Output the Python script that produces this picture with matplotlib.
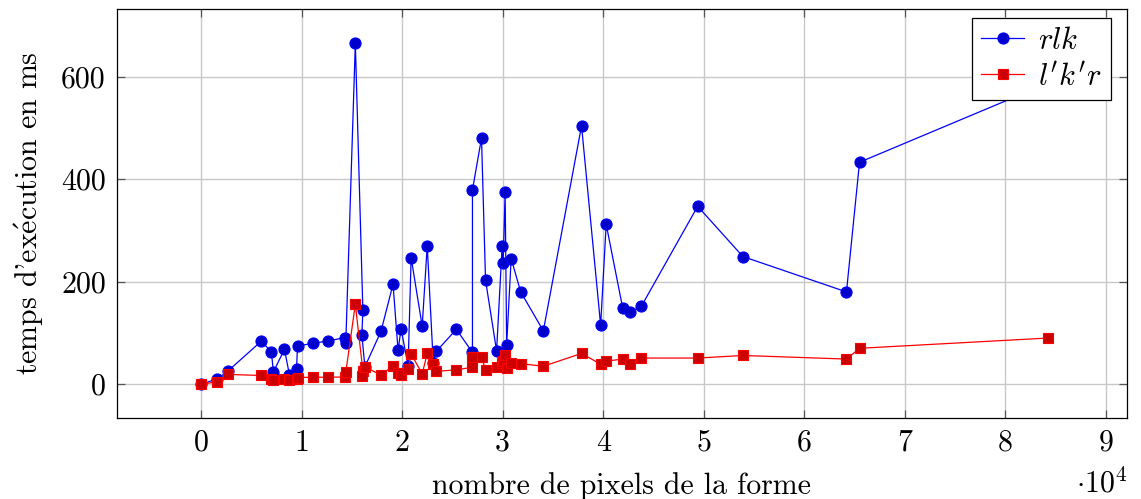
import matplotlib
matplotlib.use("Agg")
from matplotlib import pyplot as plt

plt.rcParams['font.family'] = ['cmr10', 'DejaVu Serif']
plt.rcParams['mathtext.fontset'] = 'cm'
plt.rcParams['axes.formatter.use_mathtext'] = True

# nombre de pixels (x 10^4) et temps en ms, dans l'ordre du tracé
pixels = [0, 0.16, 0.27, 0.60, 0.70, 0.72, 0.83, 0.88, 0.95, 0.96, 1.11, 1.26, 1.43, 1.44,
          1.535, 1.61, 1.60, 1.63, 1.79, 1.91, 1.96, 1.99, 2.06, 2.09, 2.20, 2.25, 2.31, 2.34,
          2.54, 2.70, 2.70, 2.79, 2.83, 2.94, 2.995, 3.005, 3.025, 3.04, 3.085, 3.18, 3.405,
          3.785, 3.975, 4.03, 4.195, 4.265, 4.38, 4.94, 5.39, 6.42, 6.55, 8.42]
rlk = [0, 10, 26, 84, 63, 24, 68, 18, 29, 74, 80, 84, 91, 80,
       665, 144, 96, 34, 103, 195, 66, 108, 36, 247, 113, 270, 42, 64,
       107, 62, 379, 480, 203, 65, 269, 236, 374, 76, 245, 180, 104,
       504, 115, 312, 148, 140, 152, 347, 249, 180, 433, 587]
lkr = [0, 4.5, 19, 17, 10, 8, 11, 8, 11, 13, 13.6, 13.6, 14, 23,
       156, 26, 16, 34, 17.5, 36, 21, 18, 30, 59, 20, 60, 40, 25,
       28, 33, 54, 54, 27, 34, 42, 45, 56, 32, 41, 40, 35,
       60, 39, 45, 49, 40, 51, 51, 56, 49, 70, 90]

x = [p * 1e4 for p in pixels]

fig = plt.figure(figsize=(11.41, 4.99), dpi=100)
ax = fig.add_axes([0.1025, 0.1623, 0.8852, 0.8197])

ax.plot(x, rlk, color='blue', lw=0.9, marker='o', ms=8,
        mfc=(0, 0, 0.8), mec='blue', mew=0.8, label=r'$rlk$', zorder=3)
ax.plot(x, lkr, color='red', lw=0.9, marker='s', ms=7.5,
        mfc=(0.8, 0, 0), mec='red', mew=0.8, label=r"$l'k'r$", zorder=3)

ax.set_xlim(-0.836e4, 9.21e4)
ax.set_ylim(-66, 732)
ax.set_xticks([i * 1e4 for i in range(10)])
ax.set_xticklabels([str(i) for i in range(10)])
ax.set_yticks([0, 200, 400, 600])
ax.set_yticklabels(['0', '200', '400', '600'])

ax.grid(True, color='#c8c8c8', lw=1.0)
ax.set_axisbelow(True)
ax.tick_params(direction='in', top=True, right=True, length=6, width=0.9,
               color='#555555', labelsize=21.5, pad=8)
for s in ax.spines.values():
    s.set_linewidth(0.9)

ax.set_xlabel('nombre de pixels de la forme', fontsize=21.5, labelpad=11)
ax.set_ylabel(r"temps d'ex$\acute{\mathrm{e}}$cution en ms", fontsize=21.5, labelpad=11)
ax.text(1.0, -0.158, r'$\cdot10^4$', transform=ax.transAxes, ha='right', va='center',
        fontsize=21.5)

leg = ax.legend(loc='upper right', bbox_to_anchor=(0.984, 0.978), fontsize=22,
                frameon=True, fancybox=False, edgecolor='black', framealpha=1,
                borderaxespad=0, handlelength=1.4, handletextpad=0.45,
                borderpad=0.3, labelspacing=0.25)
leg.get_frame().set_linewidth(0.9)

plt.savefig('out.png', dpi=100)
